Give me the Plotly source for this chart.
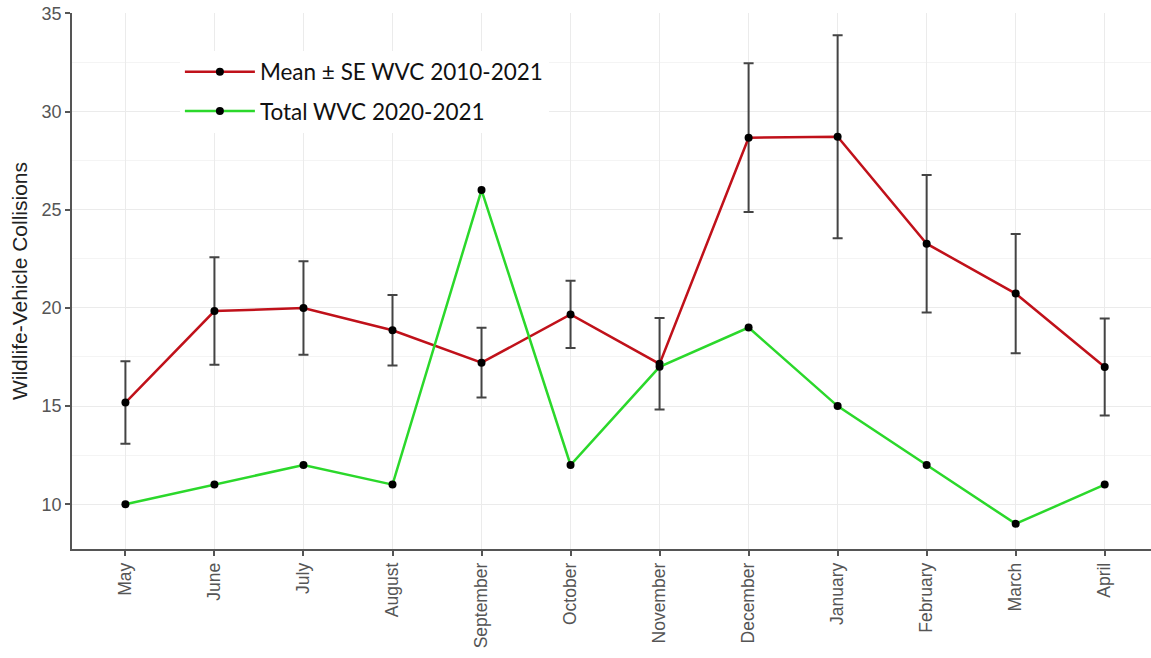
import plotly.graph_objects as go

# Months of the collision year (May to April)
months = ["May", "June", "July", "August", "September", "October",
          "November", "December", "January", "February", "March", "April"]

# Mean wildlife-vehicle collisions per month, 2010-2021, with standard error
mean_wvc = [15.18, 19.84, 19.99, 18.86, 17.21, 19.67,
            17.15, 28.67, 28.72, 23.27, 20.73, 16.99]
se_wvc = [2.10, 2.74, 2.38, 1.80, 1.78, 1.71,
          2.33, 3.79, 5.17, 3.50, 3.04, 2.47]

# Total wildlife-vehicle collisions per month, 2020-2021
total_wvc = [10, 11, 12, 11, 26, 12, 17, 19, 15, 12, 9, 11]

y_ticks = [10, 15, 20, 25, 30, 35]

fig = go.Figure()

fig.add_trace(go.Scatter(
    x=months, y=mean_wvc,
    mode="lines+markers",
    name="Mean ± SE WVC 2010-2021",
    legendgroup="mean",
    line=dict(color="#c0111a", width=2.5),
    marker=dict(color="black", size=8),
    error_y=dict(type="data", array=se_wvc, symmetric=True,
                 color="#444444", thickness=2, width=5),
))

fig.add_trace(go.Scatter(
    x=months, y=total_wvc,
    mode="lines+markers",
    name="Total WVC 2020-2021",
    legendgroup="total",
    line=dict(color="#2bd82b", width=2.5),
    marker=dict(color="black", size=8),
))

fig.update_layout(
    width=1151, height=658,
    margin=dict(l=72, r=0, t=13, b=109),
    paper_bgcolor="white",
    plot_bgcolor="white",
    font=dict(family="Liberation Sans, Arial, sans-serif", color="#4d4d4d"),
    showlegend=True,
    legend=dict(
        x=0.10, y=0.93, xanchor="left", yanchor="top",
        bgcolor="white", borderwidth=0,
        font=dict(family="Lato, sans-serif", size=22.5, color="#111111"),
        tracegroupgap=7,
        itemwidth=70,
    ),
)

fig.update_xaxes(
    type="category",
    range=[-0.6, 11.52],
    tickangle=-90,
    tickfont=dict(size=17.5, color="#555555"),
    ticks="outside", ticklen=5, tickwidth=1.5, tickcolor="#555555",
    showline=True, linecolor="#555555", linewidth=1.5,
    showgrid=True, gridcolor="#ebebeb", gridwidth=1,
    zeroline=False,
)

fig.update_yaxes(
    range=[7.72, 35.02],
    tickvals=y_ticks,
    tickfont=dict(size=18, color="#555555"),
    ticks="outside", ticklen=5, tickwidth=1.5, tickcolor="#555555",
    showline=True, linecolor="#555555", linewidth=1.5,
    showgrid=True, gridcolor="#ebebeb", gridwidth=1,
    minor=dict(dtick=2.5, tick0=0, showgrid=True, gridcolor="#f4f4f4", gridwidth=1),
    zeroline=False,
    title=dict(text="Wildlife-Vehicle Collisions",
               font=dict(size=21, color="#222222"), standoff=8),
)

fig.write_html("out.html")
